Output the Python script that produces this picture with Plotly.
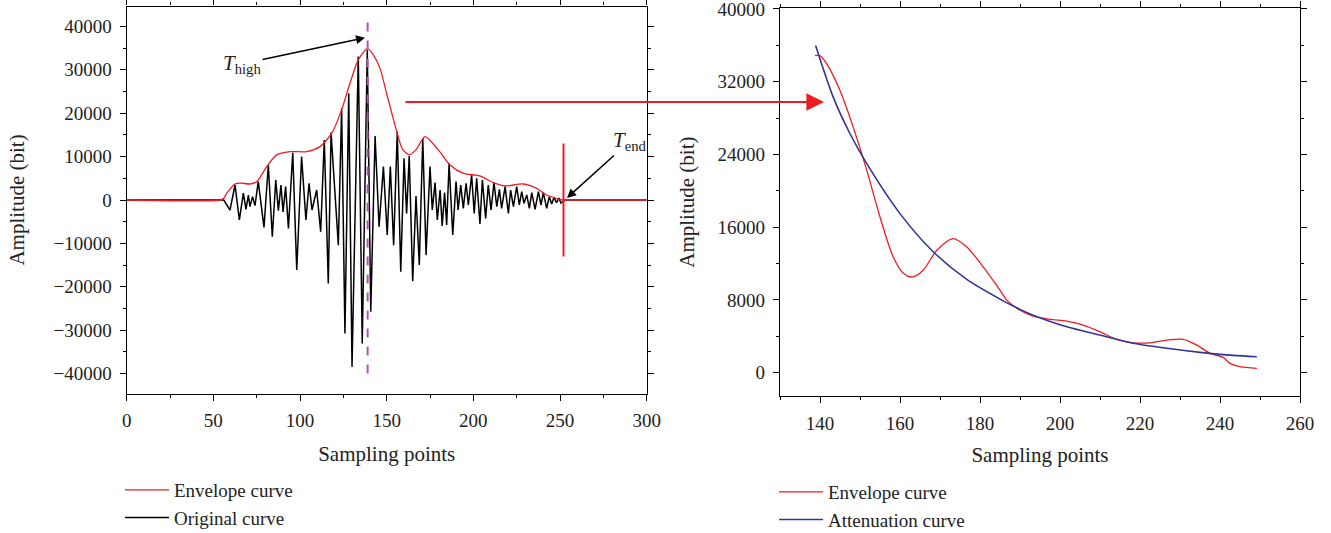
import plotly.graph_objects as go

# ---------------- data ----------------
# Left panel: original (raw) signal, local extrema
orig_x = [0, 56, 59.6, 62.5, 65, 67.3, 68.8, 70.2, 71.1, 72.6, 74, 75.9, 79.2, 81.7, 84, 86,
          87.5, 89, 90.2, 91.7, 93.3, 95.8, 98.1, 100.9, 103.4, 105.2, 106.9, 109.6, 111.9,
          114, 116.3, 117.9, 122.1, 124, 125.9, 128.1, 130, 133.6, 135.9, 138.8, 140.8,
          143.3, 145.6, 148.1, 150.3, 152.1, 154, 156.1, 158.1, 160, 161.5, 163, 165, 166.9,
          168.8, 170.8, 172.7, 175, 176.3, 177.9, 179.2, 180.8, 182, 183.4, 184.6, 186,
          188.1, 190, 191.2, 192.7, 194.2, 195.8, 197.1, 199, 200.5, 201.9, 203.8, 205.2,
          207.1, 208.6, 210.2, 211.9, 213.5, 215, 216.3, 218.3, 220.2, 221.5, 223.1, 225,
          226.5, 227.9, 229.2, 230.8, 232.3, 233.7, 235.6, 237.5, 239, 240.4, 242.3, 243.8,
          245.2, 246.5, 248, 249.4, 250.5, 252.8, 300]
orig_y = [0, 0, -2300, 3460, -4600, 1600, -2150, 1150, -1540, 770, -1300, 4230, -6300, 8080,
          -8460, 4600, -2460, 3460, -2770, 3080, -6540, 10900, -16150, 10000, -4600, 3850,
          -2300, 2300, -7300, 13850, -19230, 15540, -10400, 21150, -30770, 24600, -38460,
          33080, -33080, 34600, -25770, 14770, -6150, 7700, -8080, 7700, -10400, 15770,
          -16540, 9600, -3080, 10150, -18700, 920, -15000, 14230, -12700, 7700, -2300, 4000,
          -4600, 2300, -6000, 1700, -5770, 8460, -8080, 4230, -2300, 3460, -1920, 3850,
          -1150, 5770, -3080, 5000, -5540, 4600, -4230, 3460, -2300, 4000, -1540, 2460,
          -1920, 3080, -3080, 2300, -1540, 3080, -1150, 1920, -770, 1150, -1920, 1700,
          -2150, 1920, -1150, 1700, -1920, 770, -900, 600, -600, 450, -700, 0, 0]

# Left panel: envelope curve
envL_x = [0, 54, 56, 57.7, 62.5, 66, 71, 75, 80.8, 86.5, 94.2, 103.8, 111.5, 118.3, 124, 128.8,
          133.6, 138.8, 142.3, 146.1, 150, 155.8, 159, 163, 167, 172.1, 179.8, 186.5, 194.2,
          203.8, 211.5, 218.3, 228.8, 236.5, 242.3, 250, 252, 254, 300]
envL_y = [0, 0, 400, 1540, 3690, 3900, 3690, 4230, 7700, 10400, 11150, 11150, 12300, 15400,
          20770, 26900, 32300, 34900, 33460, 30400, 24500, 15770, 11800, 10400, 11600, 14600,
          11540, 8080, 6150, 5540, 4000, 3230, 3690, 2690, 1150, 150, 0, 0, 0]

# Right panel: envelope curve (zoomed)
envR_x = [138.75, 140, 141.7, 145, 148.3, 151.7, 155, 158.3, 160.8, 163.1, 165.8, 169.2,
          173.3, 176.7, 180.8, 185, 186.7, 190, 193.3, 197.5, 201.7, 205.8, 210, 214.2,
          218.3, 222.5, 226.7, 230.8, 234.2, 237.5, 240.8, 242.5, 245, 249.2]
envR_y = [34860, 34860, 33950, 31020, 27000, 22240, 17120, 12730, 10970, 10530, 11270, 13460,
          14750, 13830, 11630, 9070, 7980, 6880, 6220, 5860, 5670, 5230, 4500, 3660, 3290,
          3290, 3590, 3660, 3040, 2130, 1690, 1030, 660, 480]

# Right panel: attenuation curve
att_x = [138.9, 143.3, 147.5, 151.7, 160, 168.3, 176.7, 185, 190, 193.3, 201.7, 210, 218.3,
         226.7, 235, 243.3, 249.2]
att_y = [35960, 30290, 26270, 22980, 17490, 13300, 10250, 8090, 6960, 6330, 5050, 4140, 3230,
         2680, 2240, 1910, 1760]

# markers / annotations
t_high_x = 139
t_end_x = 252

RED = "rgb(237,28,36)"
BLUE = "rgb(48,54,150)"
FONT = "Liberation Serif"

W, H = 1331, 533
fig = go.Figure()

fig.add_trace(go.Scatter(x=orig_x, y=orig_y, mode="lines", name="Original curve",
                         line=dict(color="black", width=1.5), xaxis="x", yaxis="y",
                         legend="legend"))
fig.add_trace(go.Scatter(x=envL_x, y=envL_y, mode="lines", name="Envelope curve",
                         line=dict(color=RED, width=1.3, shape="spline", smoothing=0.7),
                         xaxis="x", yaxis="y", legend="legend"))
fig.add_trace(go.Scatter(x=envR_x, y=envR_y, mode="lines", name="Envelope curve",
                         line=dict(color=RED, width=1.3, shape="spline", smoothing=0.8),
                         xaxis="x2", yaxis="y2", legend="legend2"))
fig.add_trace(go.Scatter(x=att_x, y=att_y, mode="lines", name="Attenuation curve",
                         line=dict(color=BLUE, width=1.6, shape="spline", smoothing=0.8),
                         xaxis="x2", yaxis="y2", legend="legend2"))

def px_x(p):
    return p / W

def px_y(p):
    return 1 - p / H

axis_common = dict(showline=True, linecolor="black", linewidth=1.3, mirror="allticks",
                   ticks="outside", ticklen=6, tickwidth=1.2, tickcolor="black",
                   showgrid=False, zeroline=False, automargin=False, tickformat="d",
                   ticklabelstandoff=4, ticklabeloverflow="allow",
                   tickfont=dict(family=FONT, size=19, color="#222"),
                   title_font=dict(family=FONT, size=21, color="#222"))

fig.update_layout(
    width=W, height=H,
    margin=dict(l=0, r=0, t=0, b=0, autoexpand=False),
    paper_bgcolor="white", plot_bgcolor="white",
    font=dict(family=FONT, color="#222"),
    xaxis=dict(domain=[px_x(126.7), px_x(646.7)], range=[0, 300], dtick=50, tick0=0,
               minor=dict(dtick=25, ticklen=3, ticks="outside", tickcolor="black"),
               title=dict(text="Sampling points", standoff=15), anchor="y", **axis_common),
    yaxis=dict(domain=[px_y(393.5), px_y(6.5)], range=[-44600, 44600], dtick=10000, tick0=0,
               minor=dict(dtick=5000, ticklen=3, ticks="outside", tickcolor="black"),
               title=dict(text="Amplitude (bit)", standoff=23), anchor="x", **axis_common),
    xaxis2=dict(domain=[px_x(780), px_x(1300)], range=[130, 260], dtick=20, tick0=0,
                minor=dict(dtick=10, ticklen=3, ticks="outside", tickcolor="black"),
                title=dict(text="Sampling points", standoff=14), anchor="y2", **axis_common),
    yaxis2=dict(domain=[px_y(396), px_y(8.3)], range=[-2560, 40060], dtick=8000, tick0=0,
                minor=dict(dtick=4000, ticklen=3, ticks="outside", tickcolor="black"),
                title=dict(text="Amplitude (bit)", standoff=17), anchor="x2", **axis_common),
    legend=dict(x=px_x(120), y=px_y(471), xanchor="left", yanchor="top",
                traceorder="reversed", bgcolor="rgba(0,0,0,0)",
                font=dict(family=FONT, size=19, color="#222"), itemwidth=44),
    legend2=dict(x=px_x(774), y=px_y(473), xanchor="left", yanchor="top",
                 traceorder="normal", bgcolor="rgba(0,0,0,0)",
                 font=dict(family=FONT, size=19, color="#222"), itemwidth=44),
    showlegend=True,
)

# dashed T_high line and T_end marker
fig.add_shape(type="line", xref="x", yref="y", x0=t_high_x, x1=t_high_x, y0=-40000, y1=41500,
              line=dict(color="rgb(180,80,180)", width=2, dash="dash"))
fig.add_shape(type="line", xref="x", yref="y", x0=t_end_x, x1=t_end_x, y0=-13000, y1=13000,
              line=dict(color=RED, width=2))

fig.add_annotation(xref="x", yref="y", x=137.5, y=37400, ax=-123, ay=26,
                   text="<i>T</i><sub>high</sub>", showarrow=True, arrowhead=2, arrowsize=1.2,
                   arrowwidth=1.5, arrowcolor="black",
                   font=dict(family=FONT, size=21, color="#222"))
fig.add_annotation(xref="x", yref="y", x=254, y=460, ax=63, ay=-57,
                   text="<i>T</i><sub>end</sub>", showarrow=True, arrowhead=2, arrowsize=1.2,
                   arrowwidth=1.5, arrowcolor="black",
                   font=dict(family=FONT, size=21, color="#222"))

# connecting arrow between panels
fig.add_annotation(xref="paper", yref="paper", x=px_x(824), y=px_y(102), ax=-420, ay=0,
                   text="", showarrow=True, arrowhead=2, arrowsize=1.6, arrowwidth=2.2,
                   arrowcolor=RED)

fig.write_html("out.html")
